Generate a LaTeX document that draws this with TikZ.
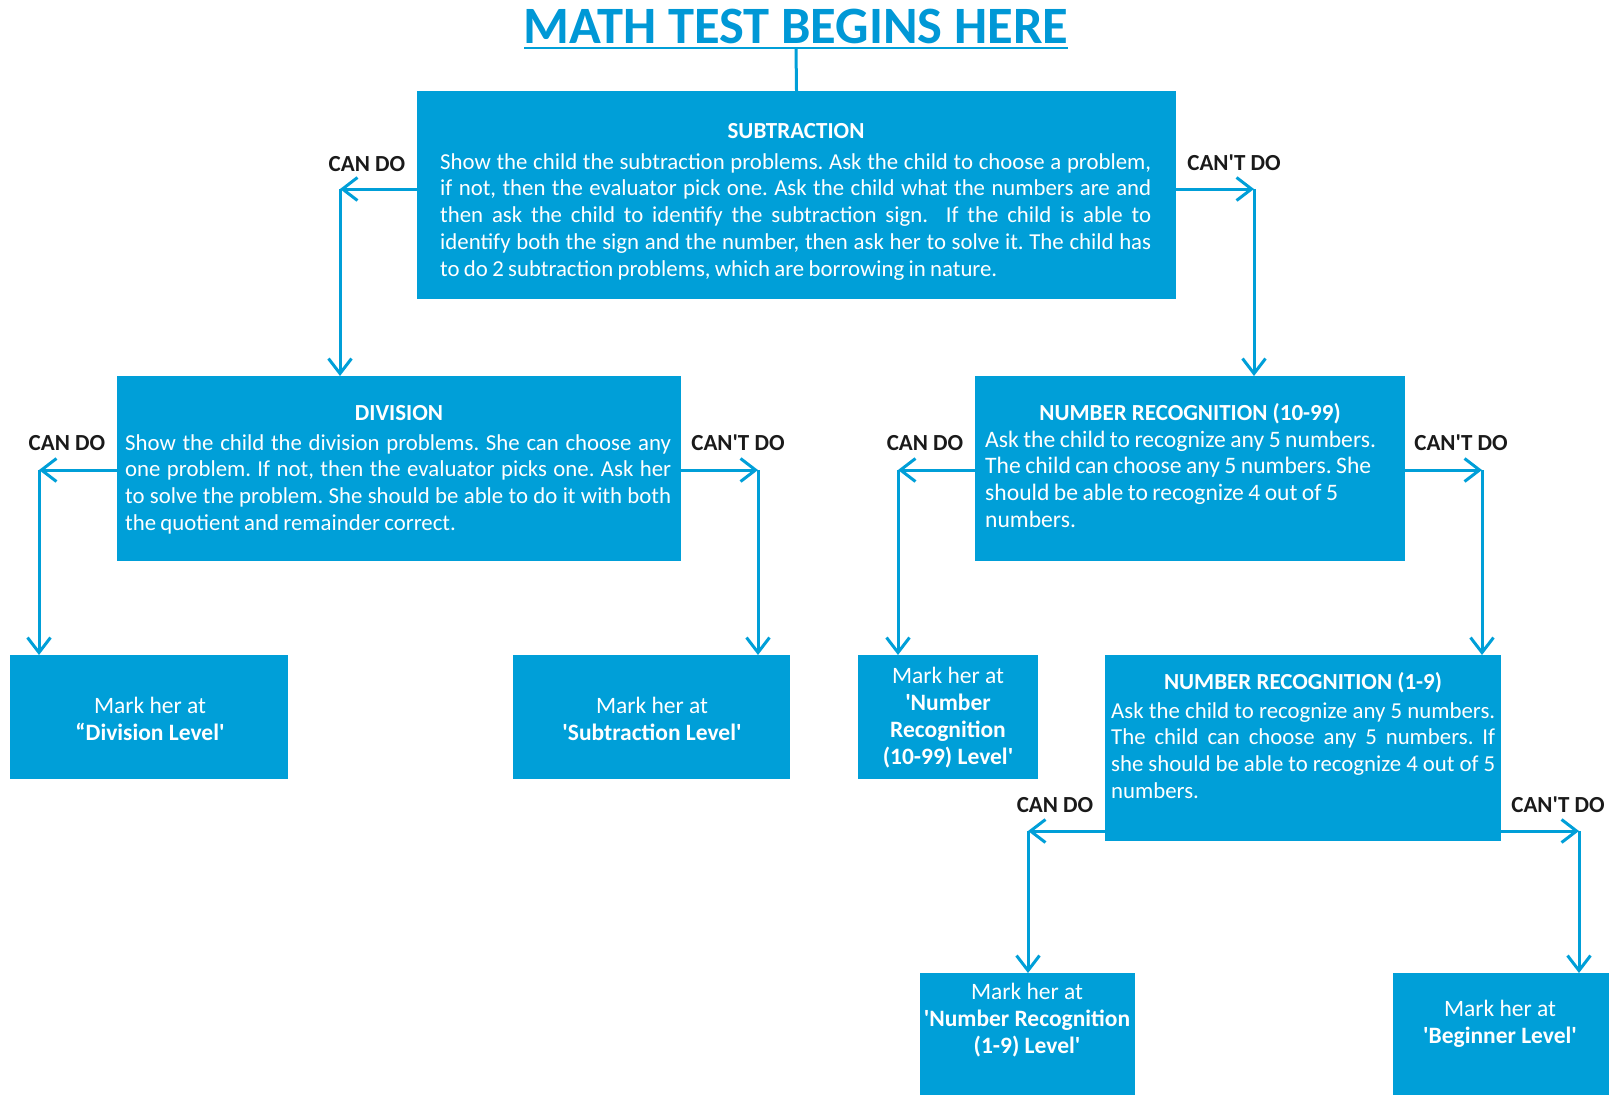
\documentclass[tikz,border=0pt]{standalone}
\usepackage{fontspec}
\setmainfont{Carlito}
\usetikzlibrary{arrows.meta,calc}
\definecolor{boxblue}{RGB}{0,159,216}
\definecolor{titleblue}{RGB}{0,152,214}
\definecolor{labelink}{RGB}{26,26,26}
\newcommand\sq{\textquotesingle}
\newcommand\bodypar[3][22.8bp]{\parbox[t]{#2}{\frenchspacing\fontsize{#1}{26.8bp}\selectfont
  \spaceskip=0.19em plus 0.4em minus 0.05em\relax #3}}
\newcommand\markpar[1]{\parbox[t]{260bp}{\centering\fontsize{23.5bp}{27bp}\selectfont #1}}

\begin{document}
\begin{tikzpicture}[x=1bp,y=-1bp,
  stepbox/.style={fill=boxblue, draw=none, inner sep=0pt, outer sep=0pt, anchor=north west},
  boxhead/.style={text=white, font=\fontsize{23bp}{27bp}\selectfont\bfseries, inner sep=0pt, anchor=base},
  boxtext/.style={text=white, inner sep=0pt, anchor=base west},
  marktext/.style={text=white, inner sep=0pt, anchor=base},
  choice/.style={text=labelink, font=\fontsize{23bp}{27bp}\selectfont\bfseries, inner sep=0pt},
  flow/.style={draw=boxblue, line width=3bp,
    -{Straight Barb[length=15bp,width=23bp,line width=3bp]}},
  link/.style={draw=boxblue, line width=3bp},
]
\useasboundingbox (0,0) rectangle (1609,1095);

% heading
\node[text=titleblue, font=\fontsize{52.5bp}{60bp}\selectfont\bfseries, inner sep=0pt, anchor=base]
  (title) at (796,43) {MATH TEST BEGINS HERE};
\coordinate (ulL) at (524,48);
\coordinate (ulR) at (1068,48);
\coordinate (ulM) at (796,48);
\draw[link, line width=2.6bp] (ulL) -- (ulR);

% boxes
\node[stepbox, minimum width=759bp, minimum height=208bp] (sub) at (417,91) {};
\node[stepbox, minimum width=564bp, minimum height=185bp] (div) at (117,376) {};
\node[stepbox, minimum width=430bp, minimum height=185bp] (nrA) at (975,376) {};
\node[stepbox, minimum width=278bp, minimum height=124bp] (lvDiv) at (10,655) {};
\node[stepbox, minimum width=277bp, minimum height=124bp] (lvSub) at (513,655) {};
\node[stepbox, minimum width=180bp, minimum height=124bp] (lvNrA) at (858,655) {};
\node[stepbox, minimum width=396bp, minimum height=186bp] (nrB) at (1105,655) {};
\node[stepbox, minimum width=215bp, minimum height=122bp] (lvNrB) at (920,973) {};
\node[stepbox, minimum width=216bp, minimum height=122bp] (lvBeg) at (1393,973) {};

\draw[link] (ulM) -- (sub.north);

% subtraction
\node[boxhead] (subH) at (796,138) {SUBTRACTION};
\node[boxtext] (subT) at (440,169) {\bodypar{711bp}{Show the child the subtraction problems. Ask the child to choose a problem,\linebreak
if not, then the evaluator pick one. Ask the child what the numbers are and\linebreak
then ask the child to identify the subtraction sign.~ If the child is able to\linebreak
identify both the sign and the number, then ask her to solve it. The child has\linebreak
to do 2 subtraction problems, which are borrowing in nature.}};

% division
\node[boxhead] (divH) at (399,420) {DIVISION};
\node[boxtext] (divT) at (125,450) {\bodypar{546bp}{Show the child the division problems. She can choose any\linebreak
one problem. If not, then the evaluator picks one. Ask her\linebreak
to solve the problem. She should be able to do it with both\linebreak
the quotient and remainder correct.}};

% number recognition 10-99
\node[boxhead] (nrAH) at (1190,420) {NUMBER RECOGNITION (10-99)};
\node[boxtext] (nrAT) at (985,447) {\bodypar[23.6bp]{415bp}{\raggedright Ask the child to recognize any 5 numbers.\\
The child can choose any 5 numbers. She\\
should be able to recognize 4 out of 5\\
numbers.}};

% number recognition 1-9
\node[boxhead] (nrBH) at (1303,689) {NUMBER RECOGNITION (1-9)};
\node[boxtext] (nrBT) at (1111,718) {\bodypar{384bp}{Ask the child to recognize any 5 numbers.\linebreak
The child can choose any 5 numbers. If\linebreak
she should be able to recognize 4 out of 5\linebreak
numbers.}};

% results
\node[marktext] (lvDivT) at (150,713) {\markpar{Mark her at\\ \textbf{“Division Level\sq}}};
\node[marktext] (lvSubT) at (652,713) {\markpar{Mark her at\\ \textbf{\sq Subtraction Level\sq}}};
\node[marktext] (lvNrAT) at (948,683) {\markpar{Mark her at\\ \textbf{\sq Number\\ Recognition\\ (10-99) Level\sq}}};
\node[marktext] (lvNrBT) at (1027,999) {\markpar{Mark her at\\ \textbf{\sq Number Recognition\\ (1-9) Level\sq}}};
\node[marktext] (lvBegT) at (1500,1016) {\markpar{Mark her at\\ \textbf{\sq Beginner Level\sq}}};

% branch labels
\node[choice] (subYes) at (367,164) {CAN DO};
\node[choice] (subNo)  at (1234,163) {CAN\sq T DO};
\node[choice] (divYes) at (67,443) {CAN DO};
\node[choice] (divNo)  at (738,443) {CAN\sq T DO};
\node[choice] (nrAYes) at (925,443) {CAN DO};
\node[choice] (nrANo)  at (1461,443) {CAN\sq T DO};
\node[choice] (nrBYes) at (1055,805) {CAN DO};
\node[choice] (nrBNo)  at (1558,805) {CAN\sq T DO};

% branch corners
\coordinate (cSubL) at (340,189);
\coordinate (cSubR) at (1254,189);
\coordinate (cDivL) at (39,470);
\coordinate (cDivR) at (758,470);
\coordinate (cNrAL) at (898,470);
\coordinate (cNrAR) at (1482,470);
\coordinate (cNrBL) at (1028,831);
\coordinate (cNrBR) at (1579,831);

% connectors
\draw[flow] (cSubL -| sub.west) -- (cSubL);
\draw[flow] (cSubL) -- (cSubL |- div.north);
\draw[flow] (cSubR -| sub.east) -- (cSubR);
\draw[flow] (cSubR) -- (cSubR |- nrA.north);

\draw[flow] (cDivL -| div.west) -- (cDivL);
\draw[flow] (cDivL) -- (cDivL |- lvDiv.north);
\draw[flow] (cDivR -| div.east) -- (cDivR);
\draw[flow] (cDivR) -- (cDivR |- lvSub.north);

\draw[flow] (cNrAL -| nrA.west) -- (cNrAL);
\draw[flow] (cNrAL) -- (cNrAL |- lvNrA.north);
\draw[flow] (cNrAR -| nrA.east) -- (cNrAR);
\draw[flow] (cNrAR) -- (cNrAR |- nrB.north);

\draw[flow] (cNrBL -| nrB.west) -- (cNrBL);
\draw[flow] (cNrBL) -- (cNrBL |- lvNrB.north);
\draw[flow] (cNrBR -| nrB.east) -- (cNrBR);
\draw[flow] (cNrBR) -- (cNrBR |- lvBeg.north);
\end{tikzpicture}
\end{document}
